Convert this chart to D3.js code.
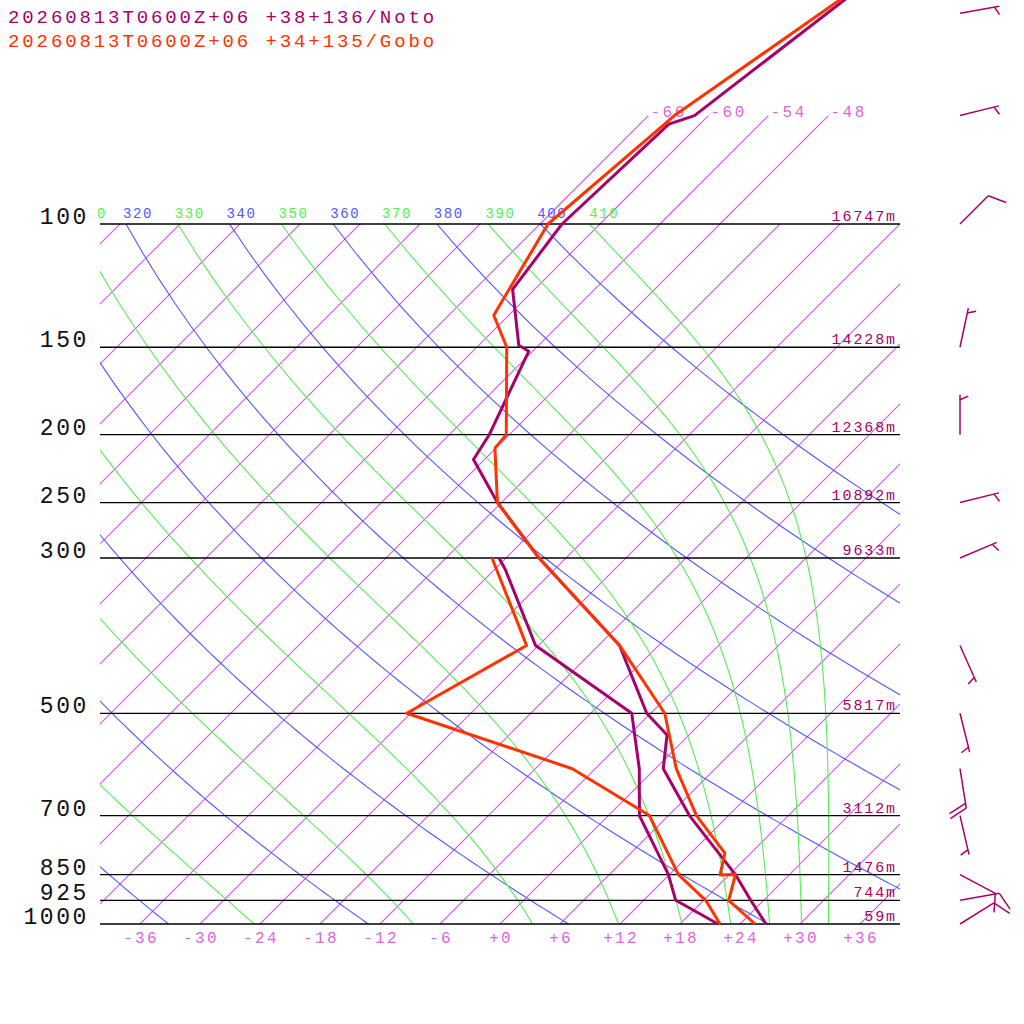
<!DOCTYPE html>
<html>
<head>
<meta charset="utf-8">
<script src="https://cdn.jsdelivr.net/npm/d3@7"></script>
<style>
  body { margin: 0; background: #fff; }
  text { font-family: "Liberation Mono", "DejaVu Sans Mono", monospace; }
  .iso { stroke: rgb(212, 88, 232); stroke-width: 1.1px; fill: none; }
</style>
</head>
<body>
<svg id="chart" width="1024" height="1024"></svg>
<script>
// station profiles: pressure (hPa), temperature / dewpoint (C)
var notoTP = [47, 70, 72, 100, 124, 149, 152, 200, 217, 250, 300, 400, 500, 537, 600, 700, 850, 925, 1000];
var notoT  = [-57.8, -61.4, -63.1, -63.8, -62.2, -56.0, -54.4, -50.0, -49.1, -42.4, -32.7, -15.9, -6.4, -2.2, 0.8, 8.1, 18.6, 22.7, 26.6];
var notoDP = [300, 311, 400, 500, 600, 700, 850, 925, 1000];
var notoTd = [-36.7, -35.0, -24.3, -7.9, -1.6, 3.1, 11.9, 15.2, 21.8];

var goboTP = [47, 70, 100, 135, 150, 200, 209, 250, 300, 400, 500, 600, 700, 792, 851, 850, 925, 1000];
var goboT  = [-58.2, -63.4, -65.2, -61.5, -57.0, -48.3, -48.1, -42.4, -32.7, -15.9, -4.6, 2.1, 8.8, 15.4, 17.1, 18.6, 20.5, 25.5];
var goboDP = [300, 400, 500, 600, 700, 850, 925, 1000];
var goboTd = [-37.4, -25.2, -30.4, -8.3, 4.1, 12.9, 18.2, 22.0];

// winds (Noto): pressure, direction from (deg), speed (kt)
var windP   = [50, 70, 100, 150, 200, 250, 300, 400, 500, 600, 700, 850, 925, 1000];
var windDir = [80, 76, 45, 12, 0, 76, 67, 156, 166, 171, 167, 118, 80, 58];
var windSpd = [5, 5, 10, 5, 5, 5, 5, 5, 5, 20, 5, 10, 10, 10];

var levels  = [100, 150, 200, 250, 300, 500, 700, 850, 925, 1000];
var heights = ["16747m", "14228m", "12368m", "10892m", "9633m", "5817m", "3112m", "1476m", "744m", "59m"];
var tempTicks = [-36, -30, -24, -18, -12, -6, 0, 6, 12, 18, 24, 30, 36];
var thetaLabels = [310, 320, 330, 340, 350, 360, 370, 380, 390, 400, 410];
var dryThetas = [200, 220, 240, 260, 280, 300, 320, 340, 360, 380, 400];
var moistThetas = [210, 230, 250, 270, 290, 310, 330, 350, 370, 390, 410];
var topIsotherms = [-66, -60, -54, -48];

var NOTO = "#a8006a", GOBO = "#ff3300", ISOTXT = "#dd66dd",
    DRY = "#5555ff", MOIST = "#55ee55";

var svg = d3.select("#chart");
var yP = d3.scaleLog().domain([1000, 100]).range([924, 224]);
var xT = d3.scaleLinear().domain([-40, 40]).range([100, 900]);
function sx(t, p) { return xT(t) + (924 - yP(p)); }
var line = d3.line().x(function(d) { return d[0]; }).y(function(d) { return d[1]; });

svg.append("clipPath").attr("id", "box")
  .append("rect").attr("x", 100).attr("y", 224).attr("width", 800).attr("height", 700);
var box = svg.append("g").attr("clip-path", "url(#box)");

// isotherms
d3.range(-150, 46, 6).forEach(function(t) {
  box.append("path").attr("class", "iso")
    .attr("d", line([[sx(t, 1000), yP(1000)], [sx(t, 100), yP(100)]]));
});
topIsotherms.forEach(function(t) {
  svg.append("path").attr("class", "iso")
    .attr("d", line([[sx(t, 100), yP(100)], [sx(t, 70), yP(70)]]));
  svg.append("text").attr("x", sx(t, 70) + 2).attr("y", yP(70) + 1)
    .attr("font-size", 16).attr("letter-spacing", 2.6).attr("fill", ISOTXT).text(t);
});

var pGrid = d3.range(1000, 99, -10);

// dry adiabats
dryThetas.forEach(function(th) {
  var pts = pGrid.map(function(p) {
    return [sx(th * Math.pow(p / 1000, 0.2857) - 273.15, p), yP(p)];
  });
  box.append("path").attr("d", line(pts)).attr("fill", "none")
    .attr("stroke", DRY).attr("stroke-width", 1.1);
});

// moist (pseudo) adiabats by theta-e
function thetaE(T, p) {
  var tc = T - 273.15;
  var es = 6.112 * Math.exp(17.67 * tc / (tc + 243.5));
  var rs = 0.622 * es / Math.max(p - es, 1);
  return T * Math.pow(1000 / p, 0.2857) * Math.exp(2.75e6 * rs / (1004 * T));
}
function moistT(te, p) {
  var lo = 120, hi = 330;
  for (var i = 0; i < 50; i++) {
    var mid = (lo + hi) / 2;
    if (thetaE(mid, p) > te) hi = mid; else lo = mid;
  }
  return lo - 273.15;
}
moistThetas.forEach(function(te) {
  var pts = pGrid.map(function(p) { return [sx(moistT(te, p), p), yP(p)]; });
  box.append("path").attr("d", line(pts)).attr("fill", "none")
    .attr("stroke", MOIST).attr("stroke-width", 1.1);
});

// theta labels at 100 hPa
thetaLabels.forEach(function(th) {
  var x = sx(th * Math.pow(0.1, 0.2857) - 273.15, 100) - 3;
  var txt = String(th);
  if (x < 100) { x = 97; txt = txt.slice(-1); }
  svg.append("text").attr("x", x).attr("y", 218).attr("font-size", 14)
    .attr("letter-spacing", 1.6)
    .attr("fill", (th / 10) % 2 === 0 ? DRY : MOIST)
    .text(txt);
});

// pressure lines + labels
levels.forEach(function(p, i) {
  svg.append("line").attr("x1", 100).attr("x2", 900)
    .attr("y1", yP(p)).attr("y2", yP(p))
    .attr("stroke", "#000").attr("stroke-width", 1.3);
  svg.append("text").attr("x", 89).attr("y", yP(p))
    .attr("text-anchor", "end").attr("font-size", 23).attr("letter-spacing", 2.6)
    .attr("fill", "#111").text(p);
  svg.append("text").attr("x", 897).attr("y", yP(p) - 3)
    .attr("text-anchor", "end").attr("font-size", 15).attr("letter-spacing", 1.9)
    .attr("fill", NOTO).text(heights[i]);
});

// temperature tick labels
tempTicks.forEach(function(t) {
  svg.append("text").attr("x", xT(t) + 1).attr("y", 943)
    .attr("text-anchor", "middle").attr("font-size", 16).attr("letter-spacing", 2.2)
    .attr("fill", ISOTXT)
    .text(t > 0 ? "+" + t : (t === 0 ? "+0" : String(t)));
});

// profiles
function profile(ps, ts, color) {
  var pts = ps.map(function(p, i) { return [sx(ts[i], p), yP(p)]; });
  svg.append("path").attr("d", line(pts)).attr("fill", "none")
    .attr("stroke", color).attr("stroke-width", 3).attr("stroke-linejoin", "round");
}
profile(notoDP, notoTd, NOTO);
profile(goboDP, goboTd, GOBO);
profile(notoTP, notoT, NOTO);
profile(goboTP, goboT, GOBO);

// wind barbs
function barb(bx, by, dir, spd, color) {
  var a = dir * Math.PI / 180;
  var ux = Math.sin(a), uy = -Math.cos(a);
  var L = 40;
  var g = svg.append("g").attr("stroke", color).attr("stroke-width", 1.5);
  var tx = bx + L * ux, ty = by + L * uy;
  g.append("line").attr("x1", bx).attr("y1", by).attr("x2", tx).attr("y2", ty);
  var ang = Math.atan2(uy, ux) + 66 * Math.PI / 180;
  var vx = Math.cos(ang), vy = Math.sin(ang);
  var full = Math.floor(spd / 10), half = (spd % 10) >= 5 ? 1 : 0;
  var off = 0;
  for (var i = 0; i < full; i++) {
    var px = tx - off * ux, py = ty - off * uy;
    g.append("line").attr("x1", px).attr("y1", py)
      .attr("x2", px + 19 * vx).attr("y2", py + 19 * vy);
    off += 5;
  }
  if (half) {
    if (full === 0) off = 5;
    var hx = tx - off * ux, hy = ty - off * uy;
    g.append("line").attr("x1", hx).attr("y1", hy)
      .attr("x2", hx + 9 * vx).attr("y2", hy + 9 * vy);
  }
}
windP.forEach(function(p, i) {
  barb(960, yP(p), windDir[i], windSpd[i], NOTO);
});

// titles
svg.append("text").attr("x", 8).attr("y", 23).attr("font-size", 19)
  .attr("letter-spacing", 2.9).attr("fill", NOTO).text("20260813T0600Z+06 +38+136/Noto");
svg.append("text").attr("x", 8).attr("y", 47).attr("font-size", 19)
  .attr("letter-spacing", 2.9).attr("fill", GOBO).text("20260813T0600Z+06 +34+135/Gobo");
</script>
</body>
</html>
